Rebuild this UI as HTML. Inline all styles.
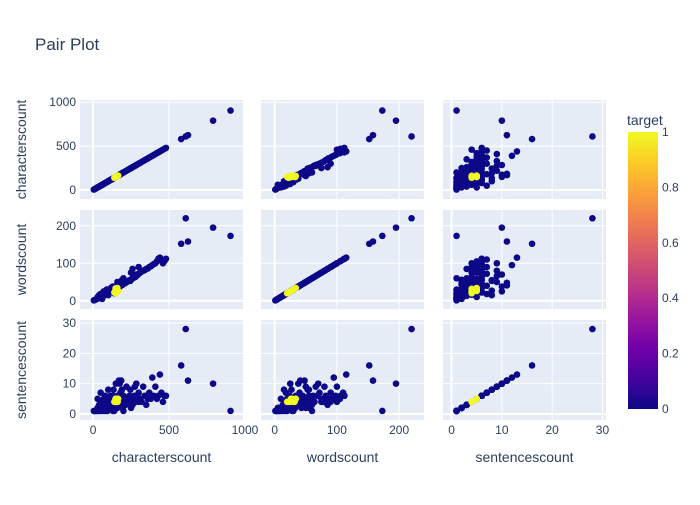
<!DOCTYPE html>
<html><head><meta charset="utf-8"><style>
body{margin:0;background:#fff;}
svg{font-family:"Liberation Sans",Arial,sans-serif;}
</style></head><body>
<svg id="chart" width="700" height="500">
<defs><linearGradient id="cb" x1="0" y1="1" x2="0" y2="0">
<stop offset="0" stop-color="#0d0887"/><stop offset="0.111" stop-color="#46039f"/><stop offset="0.222" stop-color="#7201a8"/><stop offset="0.333" stop-color="#9c179e"/><stop offset="0.444" stop-color="#bd3786"/><stop offset="0.555" stop-color="#d8576b"/><stop offset="0.666" stop-color="#ed7953"/><stop offset="0.777" stop-color="#fb9f3a"/><stop offset="0.888" stop-color="#fdca26"/><stop offset="1" stop-color="#f0f921"/></linearGradient></defs>
<text x="35" y="50" font-size="17" fill="#2a3f5f">Pair Plot</text>
<g id="panels"></g>
<g>
<text x="627" y="125" font-size="14" fill="#2a3f5f">target</text>
<rect x="628" y="132" width="30" height="277" fill="url(#cb)"/>
<g id="cbticks" font-size="12" fill="#2a3f5f"></g>
</g>
</svg>
<script>
const dims = ['characterscount','wordscount','sentencescount'];
const chars = [5,10,15,20,25,30,35,40,45,50,55,60,65,70,75,80,85,90,95,100,105,110,115,120,125,130,135,140,145,150,160,170,175,180,185,190,195,200,210,215,220,230,240,245,250,255,260,270,275,280,285,290,300,310,320,330,340,350,360,370,380,390,400,410,420,430,440,450,460,470,480,260,300,160,120,90,70,200,100,150,60,40,30,80,50,110,250,190,170,130,140,60,580,610,625,790,905,140,145,150,155,160,150,165,158,148,162];
const words = [1,2,3,4,5,6,7,8,9,10,11,12,13,14,15,16,17,18,19,20,21,22,24,25,26,28,27,30,31,33,34,36,38,40,41,42,43,45,47,48,50,52,55,53,56,58,60,62,66,64,70,68,72,75,78,80,82,85,86,90,92,95,98,100,105,112,115,110,100,106,112,85,90,50,35,30,25,60,15,25,20,15,10,22,18,30,75,55,48,38,20,5,152,220,158,195,173,22,25,28,32,34,20,26,30,33,24];
const sents = [1,1,1,1,1,2,1,1,2,1,2,1,3,2,1,4,2,3,1,5,2,3,6,2,4,1,8,3,5,2,6,3,10,7,11,4,2,6,5,3,9,4,6,8,2,5,3,6,9,4,10,6,7,5,4,9,6,3,5,7,5,12,6,9,5,6,13,7,4,6,6,5,4,2,3,1,5,1,8,10,4,3,5,6,7,5,4,8,11,6,1,2,16,28,11,10,1,4,4,5,4,5,4,5,4,5,4];
const target = [0,0,0,0,0,0,0,0,0,0,0,0,0,0,0,0,0,0,0,0,0,0,0,0,0,0,0,0,0,0,0,0,0,0,0,0,0,0,0,0,0,0,0,0,0,0,0,0,0,0,0,0,0,0,0,0,0,0,0,0,0,0,0,0,0,0,0,0,0,0,0,0,0,0,0,0,0,0,0,0,0,0,0,0,0,0,0,0,0,0,0,0,0,0,0,0,0,1,1,1,1,1,1,1,1,1,1];
const ticksC = [0,500,1000];
const ticksW = [0,100,200];
const ticksS = [0,10,20,30];
const cbTicks = [0,0.2,0.4,0.6,0.8,1];

const NS='http://www.w3.org/2000/svg';
const cols=[[80,243],[261,424],[443,606]];
const rows=[[100,199],[210,309],[320,420]];
const xdom=[[-86,987],[-22,240],[-1.7,30.7]];
const ydom=[[-102,1025],[-22,242],[-2,31]];
const ticks=[ticksC,ticksW,ticksS];
const vals=[chars,words,sents];
function mk(tag,attrs,parent){const e=document.createElementNS(NS,tag);for(const k in attrs)e.setAttribute(k,attrs[k]);parent.appendChild(e);return e;}
function sx(c,v){const[a,b]=cols[c],[d0,d1]=xdom[c];return a+(v-d0)/(d1-d0)*(b-a);}
function sy(r,v){const[a,b]=rows[r],[d0,d1]=ydom[r];return b-(v-d0)/(d1-d0)*(b-a);}
const root=document.getElementById('panels');
for(let r=0;r<3;r++){for(let c=0;c<3;c++){
  const g=mk('g',{},root);
  
  
  mk('rect',{x:cols[c][0],y:rows[r][0],width:cols[c][1]-cols[c][0],height:rows[r][1]-rows[r][0],fill:'#e5ecf6'},g);
  ticks[c].forEach(t=>{const x=sx(c,t);if(x<=cols[c][1]+0.5)mk('line',{x1:x,x2:x,y1:rows[r][0],y2:rows[r][1],stroke:'#fff','stroke-width':t===0?2:1},g);});
  ticks[r].forEach(t=>{const y=sy(r,t);if(y>=rows[r][0]-0.5)mk('line',{x1:cols[c][0],x2:cols[c][1],y1:y,y2:y,stroke:'#fff','stroke-width':t===0?2:1},g);});
  const order=[...target.keys()].sort((a,b)=>target[a]-target[b]);
  order.forEach(i=>{
    const p=mk('circle',{cx:sx(c,vals[c][i]),cy:sy(r,vals[r][i]),r:3.3,fill:target[i]?'#f0f921':'#0d0887'},g);
    
    
  });
}}
for(let r=0;r<3;r++){
  ticks[r].forEach(t=>{const y=sy(r,t);const e=mk('text',{x:76,y:y+4,'font-size':12,fill:'#2a3f5f','text-anchor':'end'},root);e.textContent=t;
    
    });
  const cy=(rows[r][0]+rows[r][1])/2;
  const tt=mk('text',{x:26,y:cy,'font-size':14,fill:'#2a3f5f','text-anchor':'middle',transform:'rotate(-90 26 '+cy+')'},root);tt.textContent=dims[r];
  
  
}
for(let c=0;c<3;c++){
  ticks[c].forEach(t=>{const x=sx(c,t);const e=mk('text',{x:x,y:434,'font-size':12,fill:'#2a3f5f','text-anchor':'middle'},root);e.textContent=t;
    
    });
  const cx=(cols[c][0]+cols[c][1])/2;
  const tt=mk('text',{x:cx,y:462,'font-size':14,fill:'#2a3f5f','text-anchor':'middle'},root);tt.textContent=dims[c];
  
  
}
const cbg=document.getElementById('cbticks');
cbTicks.forEach(t=>{const y=409-t*277;const e=mk('text',{x:662,y:y+4},cbg);e.textContent=t;
  
  });
</script>
</body></html>
